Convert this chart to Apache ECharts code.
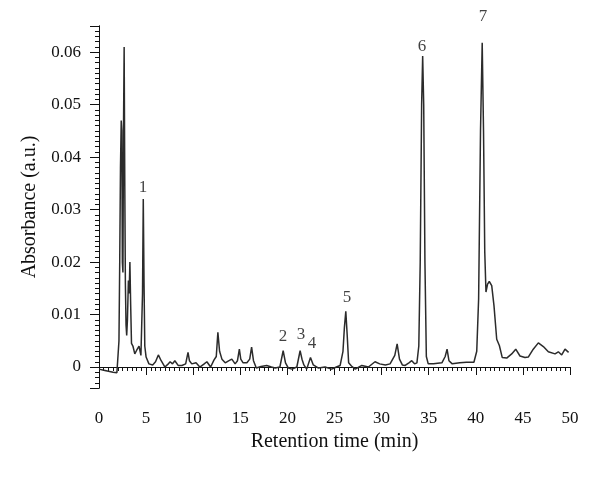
<!DOCTYPE html>
<html>
<head>
<meta charset="utf-8">
<script src="https://cdn.jsdelivr.net/npm/echarts@6/dist/echarts.min.js"></script>
<style>html,body{margin:0;padding:0;background:#fff}#c{width:600px;height:477px}</style>
</head>
<body>
<div id="c"></div>
<script>
// Retention time (min)
const times = [0,0.5,1.0,1.5,1.9,2.05,2.12,2.2,2.28,2.36,2.42,2.48,2.54,2.6,2.67,2.74,2.8,2.87,2.94,3.02,3.12,3.2,3.28,3.36,3.45,3.6,3.8,4.0,4.25,4.45,4.55,4.62,4.7,4.78,4.86,5.0,5.3,5.7,6.0,6.3,6.6,7.0,7.3,7.55,7.8,8.05,8.4,8.8,9.2,9.45,9.6,9.85,10.3,10.7,11.1,11.45,11.85,12.2,12.45,12.62,12.8,13.05,13.4,13.8,14.1,14.45,14.7,14.9,15.05,15.3,15.7,16.0,16.2,16.4,16.7,17.2,17.8,18.3,18.7,19.2,19.55,19.8,20.1,20.5,21.0,21.35,21.55,21.75,22.05,22.45,22.75,23.3,24.0,24.7,25.2,25.6,25.9,26.05,26.2,26.35,26.5,26.8,27.2,27.9,28.6,29.3,29.8,30.4,30.9,31.4,31.65,31.9,32.2,32.5,32.9,33.2,33.5,33.75,33.95,34.1,34.25,34.36,34.47,34.6,34.75,34.95,35.5,36.4,36.75,36.95,37.15,37.5,38.3,39.0,39.8,40.1,40.3,40.5,40.68,40.82,40.95,41.08,41.25,41.43,41.69,41.93,42.22,42.5,42.81,43.28,43.81,44.24,44.69,45.22,45.57,46.1,46.64,47.17,47.7,48.41,48.76,49.12,49.47,49.85];
// Absorbance (a.u.)
const absorbance = [-0.0004,-0.0006,-0.0008,-0.001,-0.0011,-0.0008,0.005,0.02,0.038,0.047,0.045,0.02,0.018,0.045,0.061,0.034,0.016,0.008,0.006,0.009,0.0165,0.014,0.02,0.012,0.0045,0.004,0.0025,0.0032,0.004,0.0022,0.0025,0.014,0.032,0.016,0.004,0.0019,0.0006,0.0004,0.001,0.0023,0.0012,0.0,0.0005,0.001,0.0006,0.0012,0.0003,0.0003,0.0006,0.0028,0.0012,0.0006,0.0008,0.0,0.0005,0.001,0.0,0.0013,0.002,0.0066,0.003,0.0015,0.0008,0.0012,0.0015,0.0006,0.0012,0.0034,0.0015,0.0008,0.0008,0.0015,0.0038,0.0012,-0.0002,0.0001,0.0003,0.0,-0.0002,0.0,0.0031,0.0008,-0.0002,-0.0004,0.0,0.0031,0.0015,0.0004,-0.0004,0.0018,0.0004,-0.0002,0.0,-0.0004,0.0,0.0003,0.003,0.0075,0.0106,0.006,0.0008,0.0002,-0.0004,0.0003,0.0,0.001,0.0006,0.0004,0.0006,0.0022,0.0044,0.0015,0.0004,0.0003,0.0008,0.0012,0.0006,0.0008,0.004,0.02,0.05,0.0593,0.05,0.02,0.002,0.0006,0.0006,0.0008,0.002,0.0034,0.0012,0.0006,0.0008,0.0009,0.0009,0.003,0.013,0.045,0.0618,0.045,0.022,0.0143,0.0158,0.0163,0.0155,0.0117,0.0053,0.0041,0.0018,0.0017,0.0025,0.0034,0.0021,0.0018,0.0019,0.0034,0.0046,0.0039,0.0029,0.0025,0.0029,0.0023,0.0034,0.0028];

// Peak labels
const peakNames = ['1','2','3','4','5','6','7'];
const peakLabelTimes = [4.67,19.53,21.44,22.6,26.33,34.29,40.76];
const peakLabelValues = [0.0343,0.0059,0.0061,0.0044,0.0133,0.0611,0.0669];

// Axis ticks
const xTickLabels = [0,5,10,15,20,25,30,35,40,45,50];
const yTickLabels = [0,0.01,0.02,0.03,0.04,0.05,0.06];
const xMin = 0, xMax = 50, xMajorStep = 5, xMinorStep = 0.5;
const yMin = -0.004, yMax = 0.065, yMinorStep = 0.001;

const font = '"Liberation Serif", "DejaVu Serif", serif';
const ink = '#111';
const chart = echarts.init(document.getElementById('c'));
chart.setOption({
  animation: false,
  backgroundColor: '#fff',
  textStyle: { fontFamily: font, color: ink },
  grid: { left: 99, right: 30, top: 26, bottom: 89 },
  xAxis: [{
    // minor ticks
    type: 'value', min: xMin, max: xMax, interval: xMinorStep, position: 'bottom',
    axisLine: { show: true, lineStyle: { color: ink, width: 1 } },
    axisTick: { show: true, length: 4, lineStyle: { color: ink } },
    axisLabel: { show: false },
    splitLine: { show: false }
  }, {
    // major ticks + labels
    type: 'value', min: xMin, max: xMax, interval: xMajorStep, position: 'bottom',
    name: 'Retention time (min)', nameLocation: 'middle', nameGap: 40,
    nameTextStyle: { fontFamily: font, fontSize: 20, color: ink },
    axisLine: { show: true, lineStyle: { color: ink, width: 1 } },
    axisTick: { show: true, length: 8, lineStyle: { color: ink } },
    axisLabel: { fontFamily: font, fontSize: 17, color: ink, margin: 22,
      customValues: xTickLabels },
    splitLine: { show: false }
  }],
  yAxis: [{
    // minor ticks
    type: 'value', min: yMin, max: yMax, interval: yMinorStep, position: 'left',
    axisLine: { show: true, lineStyle: { color: ink, width: 1 } },
    axisTick: { show: true, length: 4, lineStyle: { color: ink } },
    axisLabel: { show: false },
    splitLine: { show: false }
  }, {
    // major ticks + labels
    type: 'value', min: yMin, max: yMax, position: 'left',
    name: 'Absorbance (a.u.)', nameLocation: 'middle', nameGap: 59,
    nameTextStyle: { fontFamily: font, fontSize: 20, color: ink },
    axisLine: { show: true, lineStyle: { color: ink, width: 1 } },
    axisTick: { show: true, length: 9, lineStyle: { color: ink } },
    axisLabel: { fontFamily: font, fontSize: 17, color: ink, margin: 18,
      customValues: yTickLabels, formatter: v => (Math.abs(v) < 1e-9 ? '0' : v.toFixed(2)) },
    splitLine: { show: false }
  }],
  series: [{
    type: 'line',
    xAxisIndex: 0, yAxisIndex: 0,
    data: times.map((t, i) => [t, absorbance[i]]),
    showSymbol: false, symbol: 'none',
    lineStyle: { color: '#2b2b2b', width: 1.5 },
    z: 3
  }, {
    type: 'scatter',
    xAxisIndex: 0, yAxisIndex: 0,
    clip: false,
    symbolSize: 1,
    itemStyle: { color: 'rgba(0,0,0,0)' },
    data: peakNames.map((n, i) => ({ name: n, value: [peakLabelTimes[i], peakLabelValues[i]] })),
    label: { show: true, position: 'inside', formatter: p => p.name,
      fontFamily: font, fontSize: 17, color: ink },
    z: 4
  }]
});
</script>
</body>
</html>
